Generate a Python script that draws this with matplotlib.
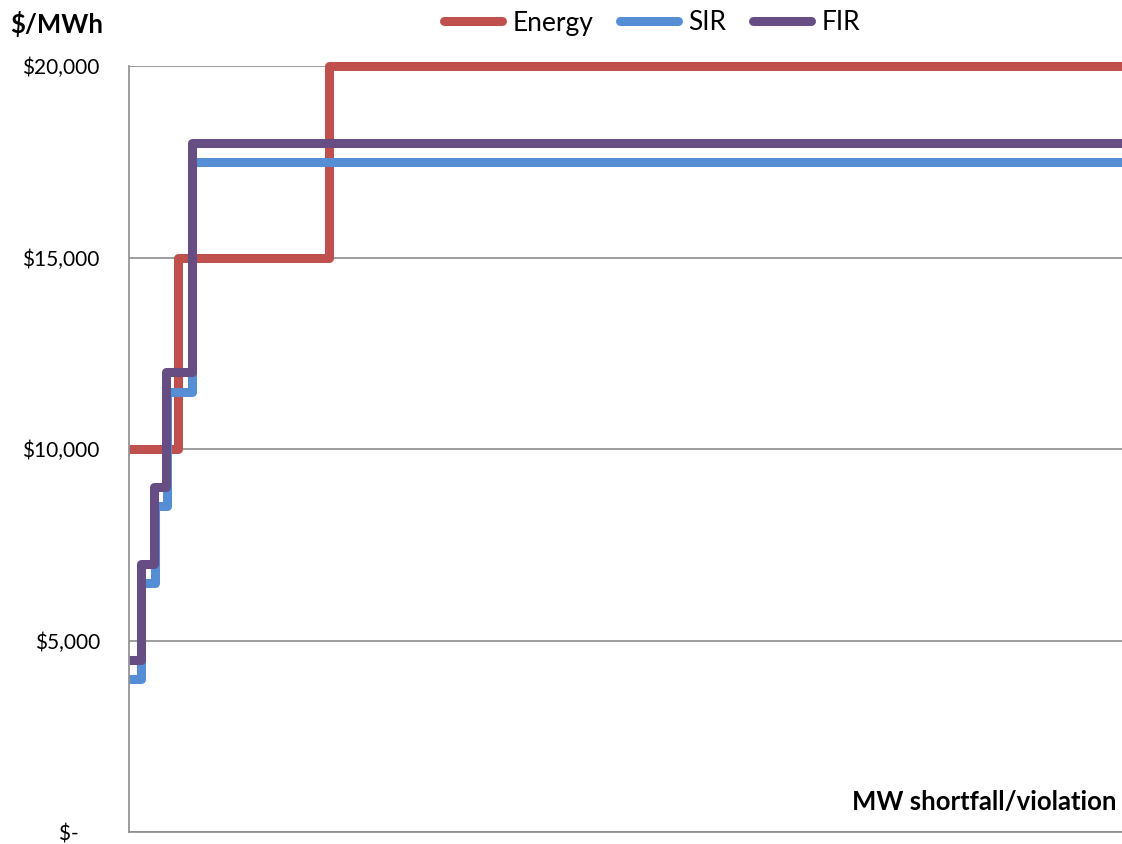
import matplotlib.pyplot as plt

plt.rcParams['font.family'] = ['Lato', 'DejaVu Sans']

# step breakpoints (MW shortfall) and prices ($/MWh)
energy_x = [0, 49, 200, 1000]
energy_y = [10000, 15000, 20000, 20000]
sir_x = [0, 12, 26, 38, 63, 1000]
sir_y = [4000, 6500, 8500, 11500, 17500, 17500]
fir_x = [0, 12, 25, 37, 63, 1000]
fir_y = [4500, 7000, 9000, 12000, 18000, 18000]

yticks = [0, 5000, 10000, 15000, 20000]
ytick_labels = ["$-    ", "$5,000", "$10,000", "$15,000", "$20,000"]

fig = plt.figure(figsize=(11.22, 8.44), dpi=100)
ax = fig.add_axes([0.115, 0.0142, 0.885, 0.9076])

for xs, ys, c, lab in [(energy_x, energy_y, "#c0504d", "Energy"),
                       (sir_x, sir_y, "#558ed5", "SIR"),
                       (fir_x, fir_y, "#664d84", "FIR")]:
    ax.step(xs, ys, where="post", color=c, linewidth=6.5,
            solid_joinstyle="round", solid_capstyle="butt", label=lab,
            clip_on=False)

ax.set_xlim(0, 993)
ax.set_ylim(0, 20000)
ax.set_xticks([])
ax.set_yticks(yticks)
ax.set_yticklabels(ytick_labels, fontsize=15)
ax.tick_params(axis="y", length=0, pad=21)
ax.grid(axis="y", color="#8c8c8c", linewidth=1.2)
ax.set_axisbelow(True)
for s in ["top", "right"]:
    ax.spines[s].set_visible(False)
for s in ["left", "bottom"]:
    ax.spines[s].set_color("#8c8c8c")
    ax.spines[s].set_linewidth(1.2)
ax.patch.set_visible(False)

fig.text(10 / 1122, 1 - 24 / 844, "$/MWh", fontsize=18.5, fontweight="bold",
         va="center", ha="left")
fig.text(1117 / 1122, 1 - 802 / 844, "MW shortfall/violation", fontsize=18.5,
         fontweight="bold", va="center", ha="right")

leg = fig.legend(loc="center", bbox_to_anchor=(652 / 1122, 1 - 23 / 844), ncol=3,
                 frameon=False, fontsize=19, handlelength=2.2, handletextpad=0.4,
                 columnspacing=1.0)
for h in leg.get_lines():
    h.set_solid_capstyle("round")

fig.savefig("out.png", dpi=100)
